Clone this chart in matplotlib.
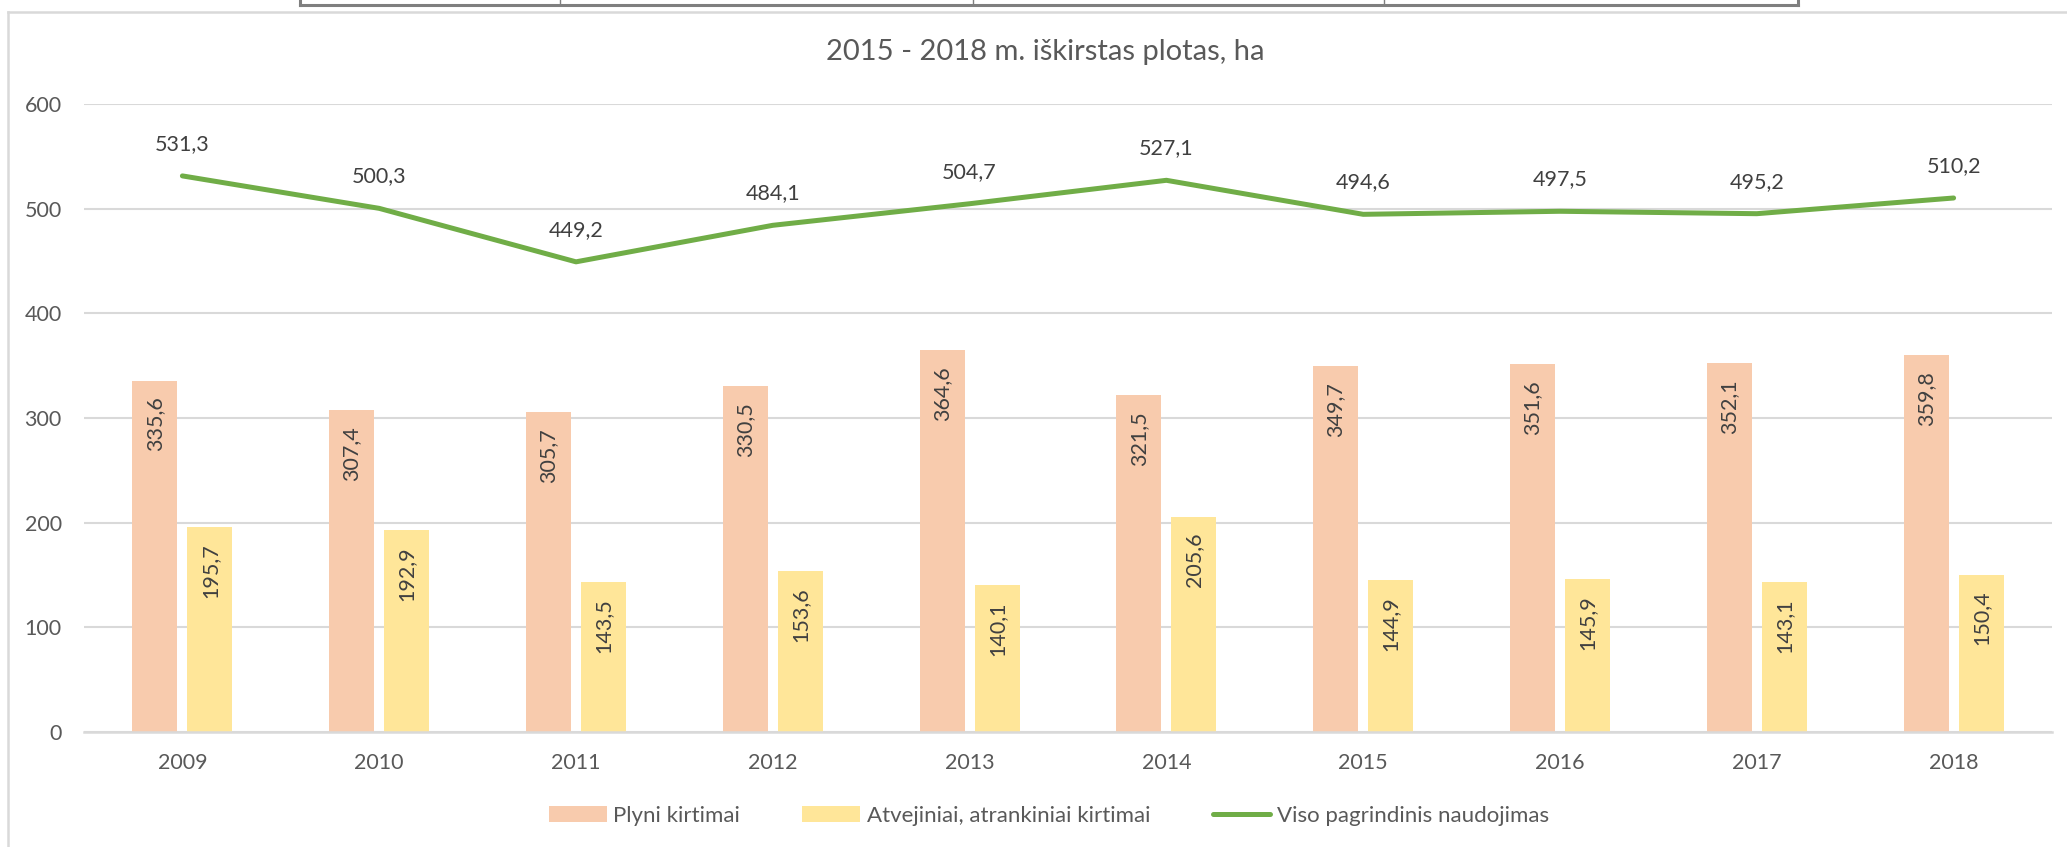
import numpy as np
import matplotlib.pyplot as plt
from matplotlib.lines import Line2D

# dane z wykresu
lata = ['2009', '2010', '2011', '2012', '2013', '2014', '2015', '2016', '2017', '2018']
plyni = [335.6, 307.4, 305.7, 330.5, 364.6, 321.5, 349.7, 351.6, 352.1, 359.8]
atvejiniai = [195.7, 192.9, 143.5, 153.6, 140.1, 205.6, 144.9, 145.9, 143.1, 150.4]
viso = [531.3, 500.3, 449.2, 484.1, 504.7, 527.1, 494.6, 497.5, 495.2, 510.2]

serijos = ['Plyni kirtimai', 'Atvejiniai, atrankiniai kirtimai', 'Viso pagrindinis naudojimas']

plt.rcParams['font.family'] = ['Lato', 'DejaVu Sans']

W, H = 2067, 847
fig = plt.figure(figsize=(W / 100, H / 100), dpi=100)
ax = fig.add_axes([84 / W, 1 - 732 / H, (2052 - 84) / W, (732 - 104) / H])

x = np.arange(len(lata))
szer = 0.229
b1 = ax.bar(x - 0.14, plyni, szer, color='#F8CBAD', label=serijos[0], zorder=2)
b2 = ax.bar(x + 0.14, atvejiniai, szer, color='#FFE699', label=serijos[1], zorder=2)
ln, = ax.plot(x, viso, color='#70AD47', lw=3.6, solid_capstyle='round',
              label=serijos[2], zorder=3)

def fmt(v):
    return f'{v:.1f}'.replace('.', ',')

for bars, vals in ((b1, plyni), (b2, atvejiniai)):
    for r, v in zip(bars, vals):
        ax.annotate(fmt(v), (r.get_x() + r.get_width() / 2, v), xytext=(0, -11.5),
                    textcoords='offset points', rotation=90, ha='center', va='top',
                    fontsize=15.5, color='#404040', zorder=4)

for xi, v in zip(x, viso):
    ax.annotate(fmt(v), (xi, v), xytext=(0, 23), textcoords='offset points',
                ha='center', va='center', fontsize=15.5, color='#404040', zorder=4)

ax.set_xlim(-0.5, len(lata) - 0.5)
ax.set_ylim(0, 600)
ax.set_yticks(range(0, 601, 100))
ax.set_xticks(x)
ax.set_xticklabels(lata)
ax.tick_params(axis='both', length=0, labelsize=15.5, labelcolor='#595959')
ax.tick_params(axis='y', pad=16)
ax.tick_params(axis='x', pad=15)
ax.grid(axis='y', color='#D9D9D9', lw=1.5, zorder=0)
for s in ['top', 'right', 'left']:
    ax.spines[s].set_visible(False)
ax.spines['bottom'].set_color('#D9D9D9')
ax.spines['bottom'].set_linewidth(1.8)

fig.text(1045 / W, 1 - 52 / H, '2015 - 2018 m. iškirstas plotas, ha', ha='center',
         va='center', fontsize=21, color='#595959')

fig.legend(handles=[b1, b2, ln], labels=serijos, loc='center', ncol=3,
           bbox_to_anchor=(1049 / W, 1 - 816 / H), frameon=False, fontsize=16,
           labelcolor='#595959', handlelength=2.6, handletextpad=0.3,
           columnspacing=2.8)

# ramka wykresu
fig.add_artist(Line2D([8 / W, 8 / W], [0, 1 - 12 / H], color='#D9D9D9', lw=1.8))
fig.add_artist(Line2D([8 / W, 1], [1 - 12 / H, 1 - 12 / H], color='#D9D9D9', lw=1.8))

# fragment tabeli nad wykresem
fig.add_artist(Line2D([300 / W, 1798 / W], [1 - 5 / H, 1 - 5 / H], color='#7F7F7F', lw=2.2))
for xl, lw in ((300, 2.2), (560, 1), (973, 1), (1384, 1), (1798, 2.2)):
    fig.add_artist(Line2D([xl / W, xl / W], [1 - 5 / H, 1], color='#7F7F7F', lw=lw))

fig.savefig('out.png', dpi=100)
